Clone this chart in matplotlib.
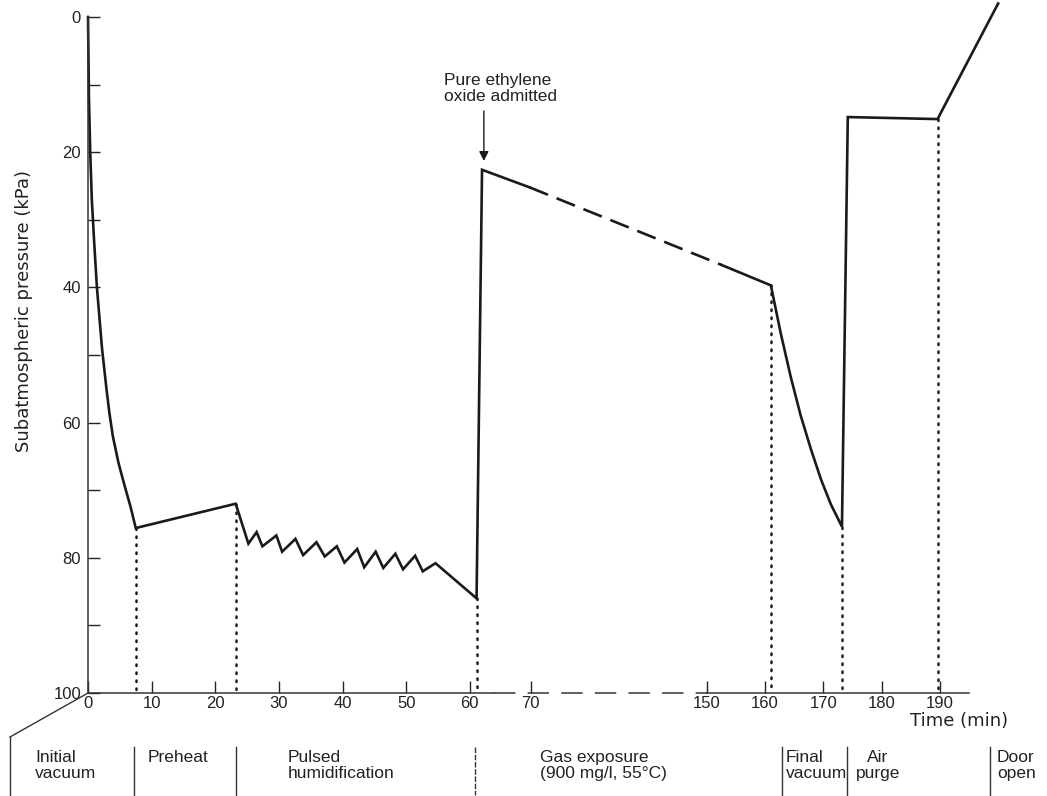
import numpy as np
import matplotlib
matplotlib.use('Agg')
import matplotlib.pyplot as plt
from matplotlib.lines import Line2D

plt.rcParams['font.family'] = ['Liberation Sans', 'DejaVu Sans']

# --- data (time in min, pressure in kPa) ---
# initial vacuum
vac_t = [0, 0.15, 0.35, 0.6, 0.95, 1.4, 1.8, 2.2, 2.9, 3.35, 3.9, 4.8, 5.8, 6.7, 7.5]
vac_p = [0, 12, 20, 27, 33, 40, 44.5, 49, 55, 58.5, 62, 66, 69.5, 72.5, 75.6]
# preheat end + pulsed humidification
pulse_t = [23.2, 25.2, 26.5, 27.4, 29.6, 30.5, 32.6, 33.8, 35.9, 37.2, 39.1,
           40.3, 42.3, 43.4, 45.2, 46.4, 48.3, 49.5, 51.4, 52.6, 54.6, 61.1]
pulse_p = [72.0, 77.9, 76.2, 78.3, 76.7, 79.1, 77.2, 79.6, 77.7, 79.8, 78.3,
           80.7, 78.7, 81.4, 79.1, 81.5, 79.4, 81.7, 79.7, 82.0, 80.8, 86.0]
# gas exposure (middle part dashed)
gas_t = [62.0, 69.8, 152.6, 161.0]
gas_p = [22.6, 25.2, 36.7, 39.7]
# final vacuum
final_t = [161.0, 162.7, 164.4, 166.1, 167.9, 169.6, 171.3, 173.2]
final_p = [39.7, 46.8, 53.2, 58.9, 64.0, 68.4, 72.1, 75.4]
# air purge + door open
purge_t = [173.2, 174.2, 189.6, 200.0]
purge_p = [75.4, 14.8, 15.1, -2.0]

# phase boundaries (dotted lines)
bound_t = [7.5, 23.2, 61.1, 161.0, 173.2, 189.6]
bound_p = [75.6, 72.0, 86.0, 39.7, 75.4, 15.1]

xticks = [0, 10, 20, 30, 40, 50, 60, 70, 150, 160, 170, 180, 190]
yticks = [0, 20, 40, 60, 80, 100]

phases = ['Initial\nvacuum', 'Preheat', 'Pulsed\nhumidification',
          'Gas exposure\n(900 mg/l, 55°C)', 'Final\nvacuum', 'Air\npurge',
          'Door\nopen']
phase_x = [35, 148, 288, 540, 786, 878, 997]      # pixel x of each label
phase_ha = ['left', 'left', 'left', 'left', 'left', 'center', 'left']
bar_x = [10, 134, 236, 475, 782, 847, 990]        # pixel x of separators

# broken time axis: hand drawn scale, 70..150 min squeezed
knots_t = [-100, 0, 60, 70, 150, 300]
knots_d = [-637, 0, 382, 443, 619, 1493.5]


def fwd(t):
    return np.interp(t, knots_t, knots_d)


def inv(d):
    return np.interp(d, knots_d, knots_t)


W, H = 1047, 796
fig = plt.figure(figsize=(W / 100, H / 100), dpi=100)
ax = fig.add_axes([88 / W, 103 / H, 881 / W, 676 / H])
ax.set_xscale('function', functions=(fwd, inv))
ax.set_xlim(0, 195)
ax.set_ylim(100, 0)

ink = '#1a1a1a'
lw = 1.9
kw = dict(color=ink, lw=lw, clip_on=False, solid_joinstyle='miter')

ax.plot(vac_t + pulse_t + gas_t[:2], vac_p + pulse_p + gas_p[:2], **kw)
ax.plot(gas_t[1:3], gas_p[1:3], color=ink, lw=lw, dashes=(7.5, 3.5),
        clip_on=False)
ax.plot(gas_t[2:] + final_t[1:] + purge_t[1:],
        gas_p[2:] + final_p[1:] + purge_p[1:], **kw)

for t, p in zip(bound_t, bound_p):
    ax.plot([t, t], [p, 100], color=ink, lw=1.8,
            linestyle=(0, (0.6, 2.6)), dash_capstyle='round', clip_on=False)

# bottom axis line: solid / dashed across the break / solid
for s in ['bottom', 'top', 'right']:
    ax.spines[s].set_visible(False)
ax.spines['left'].set_linewidth(1.1)
ax.spines['left'].set_color('#333333')
ax.plot([0, 64], [100, 100], color='#333333', lw=1.1, clip_on=False)
ax.plot([64, 150], [100, 100], color='#333333', lw=1.1, dashes=(14, 8),
        clip_on=False)
ax.plot([150, 195], [100, 100], color='#333333', lw=1.1, clip_on=False)

ax.set_xticks(xticks)
ax.set_xticklabels([str(v) for v in xticks])
ax.set_yticks(yticks)
ax.set_yticks([10, 30, 50, 70, 90], minor=True)
ax.xaxis.set_minor_locator(matplotlib.ticker.NullLocator())
ax.tick_params(axis='both', which='both', direction='in', length=8.5,
               width=1.0, labelsize=12, colors='#222222')
ax.tick_params(axis='x', pad=2)
ax.tick_params(axis='y', pad=5)

ax.set_ylabel('Subatmospheric pressure (kPa)', fontsize=13, color='#222222',
              family=['DejaVu Sans'])
ax.yaxis.set_label_coords(-0.062, 0.565)
fig.text(1008 / W, 1 - 721 / H, 'Time (min)', ha='right', va='center',
         fontsize=13, color='#222222', family=['DejaVu Sans'])

# annotation
ax.annotate('', xy=(62.3, 21.3), xytext=(62.3, 13.9),
            arrowprops=dict(arrowstyle='-|>', color=ink, lw=1.0,
                            mutation_scale=14, shrinkA=0, shrinkB=0))
ax.text(56.0, 12.9, 'Pure ethylene\noxide admitted', ha='left', va='bottom',
        fontsize=12.5, color='#222222', linespacing=1.1)

# phase label strip below the axis
fig.add_artist(Line2D([10 / W, 88 / W], [1 - 737 / H, 1 - 693 / H],
                      color='#333333', lw=1.0))
for i, bx in enumerate(bar_x):
    y0 = 737 if i == 0 else 747
    ls = (0, (4, 1.2)) if i == 3 else '-'
    fig.add_artist(Line2D([bx / W, bx / W], [1 - y0 / H, 1 - 795 / H],
                          color='#333333', lw=1.0, linestyle=ls))
for label, px, ha in zip(phases, phase_x, phase_ha):
    fig.text(px / W, 1 - 750 / H, label, ha=ha, va='top', fontsize=12.5,
             color='#222222', linespacing=1.1, multialignment=ha)

fig.savefig('out.png', dpi=100)
